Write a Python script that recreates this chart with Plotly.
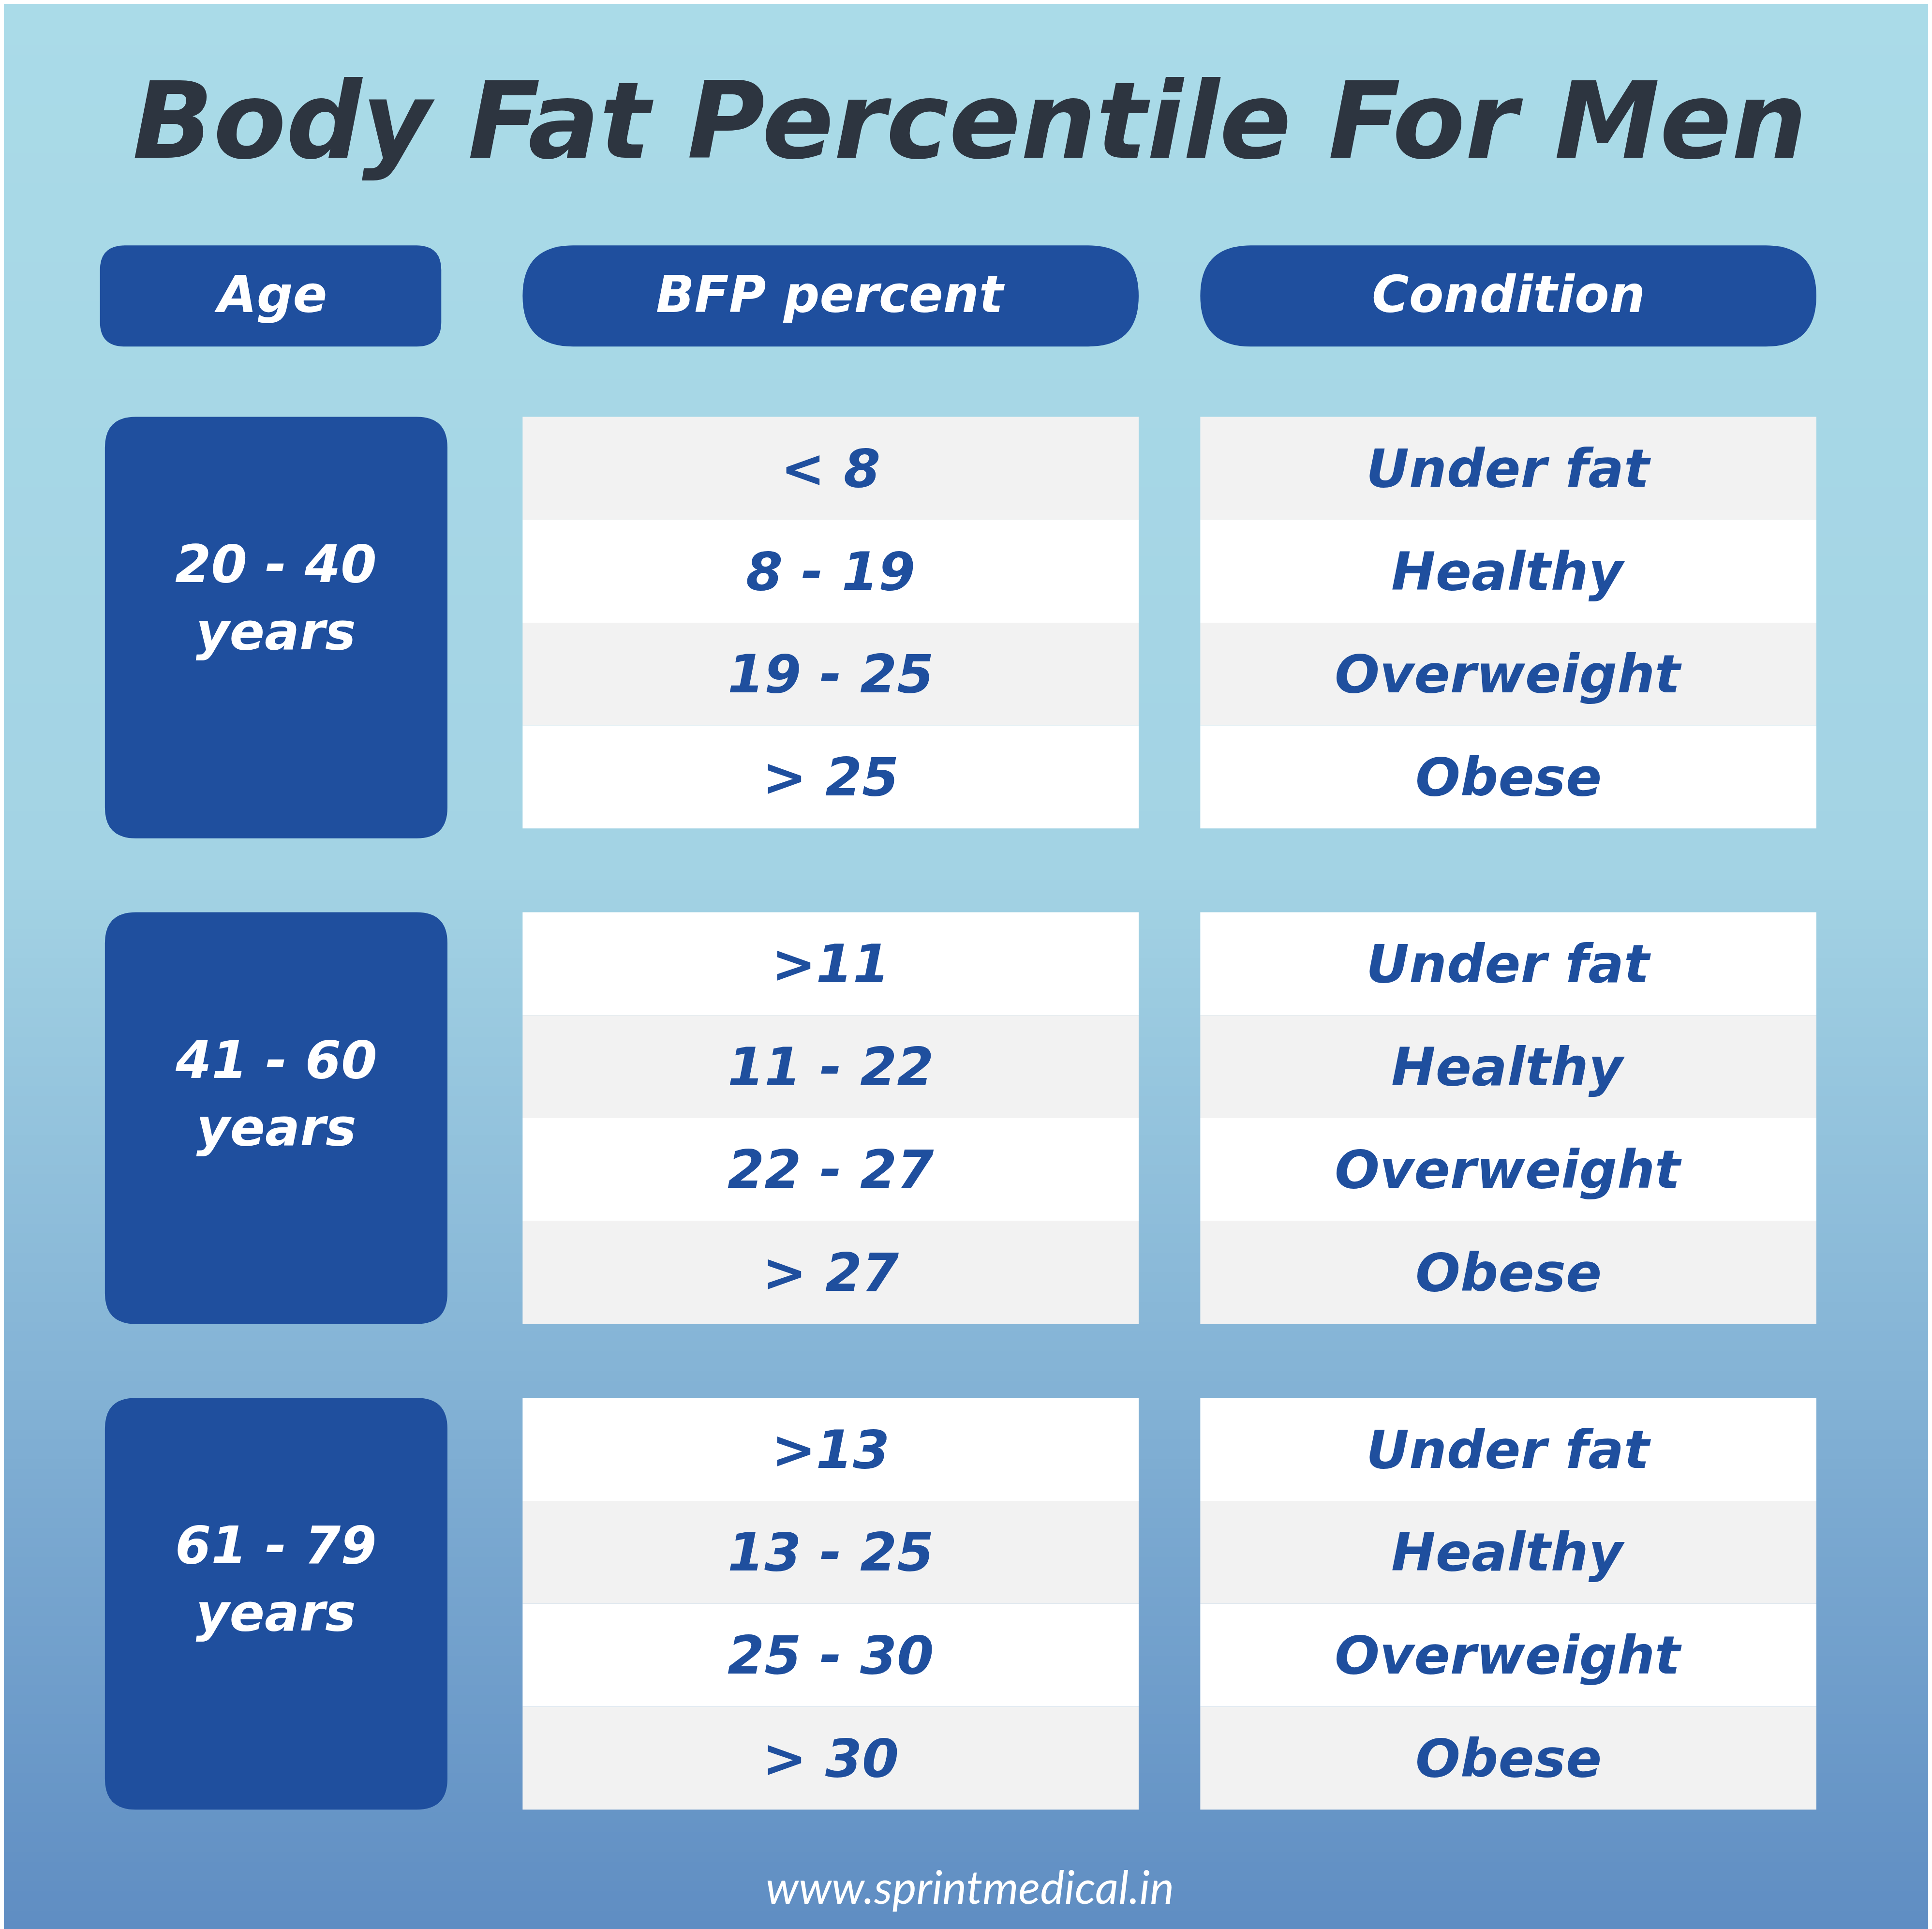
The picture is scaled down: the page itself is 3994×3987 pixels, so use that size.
import numpy as np
import plotly.graph_objects as go

W, H = 3994, 3987
BW, BH = 1568.0, 1565.0
s = W / BW

title = "Body Fat Percentile For Men"
headers = ["Age", "BFP percent", "Condition"]
age_groups = ["20 - 40<br>years", "41 - 60<br>years", "61 - 79<br>years"]
bfp = [["< 8", "8 - 19", "19 - 25", "> 25"],
       [">11", "11 - 22", "22 - 27", "> 27"],
       [">13", "13 - 25", "25 - 30", "> 30"]]
conditions = ["Under fat", "Healthy", "Overweight", "Obese"]
footer = "www.sprintmedical.in"

BLUE = "#1f4f9e"
GRAY = "#f2f2f2"
FONT = "DejaVu Sans"

fig = go.Figure()
yy = np.linspace(-10, BH + 10, 200)
fig.add_trace(go.Heatmap(x=[-10, BW + 10], y=yy, z=[[v, v] for v in yy], showscale=False,
                         colorscale=[[0, "#aadbe8"], [0.45, "#a3d3e4"], [0.7, "#85b4d6"], [1, "#5e8cc2"]],
                         hoverinfo="skip"))

def rrect(x0, y0, x1, y1, r, color):
    p = (f"M{x0+r},{y0} L{x1-r},{y0} Q{x1},{y0} {x1},{y0+r} L{x1},{y1-r} Q{x1},{y1} {x1-r},{y1} "
         f"L{x0+r},{y1} Q{x0},{y1} {x0},{y1-r} L{x0},{y0+r} Q{x0},{y0} {x0+r},{y0} Z")
    fig.add_shape(type="path", path=p, fillcolor=color, line_width=0, layer="above")

def txt(x, y, t, size, color, italic=True, bold=True, family=FONT):
    fig.add_annotation(x=x, y=y, text=(f"<b>{t}</b>" if bold else t), showarrow=False,
                       font=dict(family=family, size=size * s, color=color, style="italic" if italic else "normal"))

txt(784, 95, title, 86, "#2d3540")

cols = [(78, 355), (421, 921), (971, 1471)]
radii = [20, 41, 41]
for (x0, x1), r, h in zip(cols, radii, headers):
    rrect(x0, 196, x1, 278, r, BLUE)
    txt((x0 + x1) / 2, 236, h, 41, "white")

group_tops = [335, 737, 1131]
rowh = 83.5
for g, top in enumerate(group_tops):
    bottom = top + 4 * rowh
    rrect(82, top, 360, bottom + (8 if g == 0 else 0), 25, BLUE)
    txt(221, (top + bottom) / 2 - 20, age_groups[g], 42, "white")
    for i in range(4):
        y0 = top + i * rowh
        gray = (i % 2 == 0) if g == 0 else (i % 2 == 1)
        for (x0, x1) in cols[1:]:
            fig.add_shape(type="rect", x0=x0, x1=x1, y0=y0, y1=y0 + rowh,
                          fillcolor=GRAY if gray else "white", line_width=0, layer="above")
        txt(671, y0 + rowh / 2, bfp[g][i], 43, BLUE)
        txt(1221, y0 + rowh / 2, conditions[i], 43, BLUE)

txt(784, 1527, footer, 37, "white", italic=True, bold=False, family="Lato")

fig.update_xaxes(range=[0, BW], visible=False)
fig.update_yaxes(range=[BH, 0], visible=False)
fig.update_layout(width=W, height=H, autosize=False, margin=dict(l=0, r=0, t=0, b=0),
                  plot_bgcolor="#a3d3e4", paper_bgcolor="#a3d3e4", showlegend=False)
fig.write_html("out.html")
